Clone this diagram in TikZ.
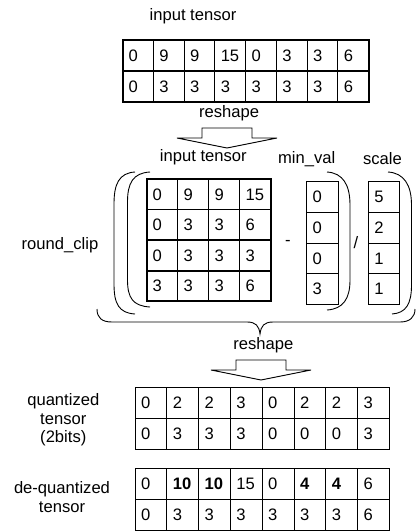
\documentclass[tikz,border=0pt]{standalone}
\usepackage{fontspec}
\setmainfont{Liberation Sans}
\usetikzlibrary{positioning}

\tikzset{
  thinline/.style={draw=black, line width=0.9pt},
  thickline/.style={draw=black, line width=2pt},
  cellbox/.style={thinline, outer sep=0pt, inner ysep=0pt, inner xsep=6pt,
    align=left, anchor=north west, minimum height=31pt, text width=#1},
  cellbox/.default=18.75pt,
  downarrow/.pic={
    \draw[thinline] (-25,0) -- (25,0) -- (25,10) -- (50,10) -- (0,20) -- (-50,10) -- (-25,10) -- cycle;
  }
}

\begin{document}
\begin{tikzpicture}[x=1pt, y=-1pt, font=\fontsize{16.6}{18.5}\selectfont, line join=miter]
\useasboundingbox (0,0) rectangle (419,532);

% input tensor (flat)
\node (intop) at (193,16) {input tensor};
\foreach \v [count=\i] in {0,9,9,15,0,3,3,6}
  \node[cellbox] (a-1-\i) at ({122.5+(\i-1)*30.75},40) {\v};
\foreach \v [count=\i] in {0,3,3,3,3,3,3,6}
  \node[cellbox] (a-2-\i) at ({122.5+(\i-1)*30.75},71) {\v};
\draw[thickline] (a-1-1.north west) rectangle (a-2-8.south east);
\draw[thickline] (a-2-1.north west) -- (a-2-8.north east);

\node (rs1) at (229,113) {reshape};
\pic at (227,128) {downarrow};

% reshaped tensor, min_val, scale
\node (intxt) at (203.3,157) {input tensor};
\node (mintxt) at (306.7,159) {min\_val};
\node (scaletxt) at (382.5,159) {scale};

\foreach \row [count=\r] in {{0,9,9,15},{0,3,3,6},{0,3,3,3},{3,3,3,6}}
  \foreach \v [count=\c] in \row
    \node[cellbox=19pt, minimum height=30.5pt] (m-\r-\c) at ({146.7+(\c-1)*31},{179.3+(\r-1)*30.5}) {\v};
\draw[thickline] (m-1-1.north west) rectangle (m-4-4.south east);
\draw[thickline] (m-3-1.north west) rectangle (m-3-4.south east);

\foreach \v [count=\r] in {0,0,0,3}
  \node[cellbox=19.6pt, minimum height=30.65pt] (mn-\r) at (306.7,{181.7+(\r-1)*30.65}) {\v};
\foreach \v [count=\r] in {5,2,1,1}
  \node[cellbox=19pt, minimum height=30.65pt] (sc-\r) at (368.3,{181.7+(\r-1)*30.65}) {\v};

\node (minus) at (288,243) {-};
\node (divide) at (356,243) {/};
\node (roundclip) at (60,245) {round\_clip};

% brackets
\draw[thinline] (135,172) .. controls (119,173) and (114,184) .. (114,204) -- (114,284) .. controls (114,304) and (119,313) .. (135,314);
\draw[thinline] (150,172) .. controls (133,173) and (127.5,183) .. (127.5,202) -- (127.5,280) .. controls (127.5,298) and (133,306) .. (150,307);
\draw[thinline] (327,172) .. controls (343,173) and (350,185) .. (350,205) -- (350,280) .. controls (350,299) and (343,309) .. (327,310);
\draw[thinline] (388,172) .. controls (404,173) and (411.5,185) .. (411.5,205) -- (411.5,285) .. controls (411.5,304) and (406,313) .. (392,314);
\draw[thinline] (97,309) .. controls (97,318) and (102,322) .. (112,322) -- (247,322) .. controls (256,322) and (259,326) .. (260,334)
  .. controls (261,326) and (264,322) .. (273,322) -- (400,322) .. controls (410,322) and (415,317) .. (415,309);

\node (rs2) at (263.3,345) {reshape};
\pic at (261,360) {downarrow};

% quantized
\node[align=center] (qtxt) at (63.3,420) {quantized\\tensor\\(2bits)};
\foreach \v [count=\i] in {0,2,2,3,0,2,2,3}
  \node[cellbox=19.8pt] (q-1-\i) at ({135+(\i-1)*31.8},387.3) {\v};
\foreach \v [count=\i] in {0,3,3,3,0,0,0,3}
  \node[cellbox=19.8pt] (q-2-\i) at ({135+(\i-1)*31.8},418.3) {\v};

% de-quantized
\node[align=center] (dqtxt) at (62,497) {de-quantized\\tensor};
\foreach \v [count=\i] in {0,\textbf{10},\textbf{10},15,0,\textbf{4},\textbf{4},6}
  \node[cellbox=19.8pt, minimum height=30.75pt] (d-1-\i) at ({135+(\i-1)*31.8},468.5) {\v};
\foreach \v [count=\i] in {0,3,3,3,3,3,3,6}
  \node[cellbox=19.8pt, minimum height=30.75pt] (d-2-\i) at ({135+(\i-1)*31.8},499.25) {\v};

\end{tikzpicture}
\end{document}
